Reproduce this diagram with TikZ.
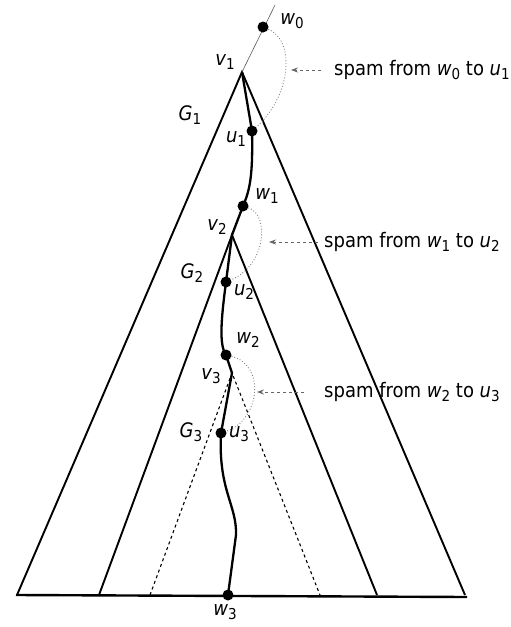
\documentclass[tikz,border=0pt]{standalone}
\usepackage{fontspec}
\setmainfont{DejaVu Sans}[FakeStretch=0.9]
\usetikzlibrary{arrows.meta}
\newcommand{\vtx}[2]{\textit{#1}\raisebox{-0.4ex}{\fontsize{15}{15}\selectfont #2}}
\begin{document}
\begin{tikzpicture}[x=1pt,y=-1pt,dot/.style={circle,fill=black,inner sep=0pt,minimum size=11pt},tri/.style={line width=1.9pt},triG/.style={line width=1.1pt,dashed},walk/.style={line width=2.3pt,line join=round},spam/.style={gray,dotted,line width=0.9pt},pointer/.style={gray!80!black,dashed,line width=0.8pt,-{Stealth[length=7pt,width=5pt]}},lbl/.style={font=\fontsize{20}{23}\selectfont,inner sep=1pt}]
\useasboundingbox (0,0) rectangle (511,627);

\coordinate (top) at (275,5);
\coordinate (v1) at (242,72);
\coordinate (v2) at (232,235);
\coordinate (v3) at (232,373);
\coordinate (L1) at (17,595);
\coordinate (R1) at (465,595);
\coordinate (L2) at (99,595);
\coordinate (R2) at (377,595);
\coordinate (L3) at (150,595);
\coordinate (R3) at (320,595);
\coordinate (B0) at (16,595);
\coordinate (B1) at (467,597);
\coordinate (bend) at (236,535);

% the three nested graphs
\draw[tri] (L1) -- (v1) -- (R1);
\draw[tri] (L2) -- (v2) -- (R2);
\draw[triG] (L3) -- (v3) -- (R3);
\draw[line width=2.4pt] (B0) -- (B1);
\draw[line width=0.6pt,gray!70!black] (top) -- (v1);

\node[dot] (w0) at (263,27) {};
\node[dot] (u1) at (252,131) {};
\node[dot] (w1) at (243,206) {};
\node[dot] (u2) at (226,282) {};
\node[dot] (w2) at (226,355) {};
\node[dot] (u3) at (221,433) {};
\node[dot] (w3) at (228,595) {};

% the walk
\draw[walk] (v1) -- (u1.center) .. controls (253,175) and (250,190) .. (w1.center) -- (v2) -- (u2.center) .. controls (221,320) and (219,345) .. (w2.center) -- (v3) -- (u3.center) .. controls (218,490) and (237,505) .. (bend) -- (w3.center);

% spam arcs
\draw[spam] (w0) .. controls (295,40) and (292,95) .. (u1);
\draw[spam] (w1) .. controls (270,215) and (266,265) .. (u2);
\draw[spam] (w2) .. controls (266,365) and (260,420) .. (u3);

\node[lbl,anchor=west] (t1) at (333,70) {spam from \vtx{w}{0} to \vtx{u}{1}};
\node[lbl,anchor=west] (t2) at (323,242) {spam from \vtx{w}{1} to \vtx{u}{2}};
\node[lbl,anchor=west] (t3) at (323,392) {spam from \vtx{w}{2} to \vtx{u}{3}};
\coordinate (a1) at (291,70);
\coordinate (a2) at (269,242);
\coordinate (a3) at (257,392);
\draw[pointer] ([xshift=-12pt]t1.west) -- (a1);
\draw[pointer] ([xshift=-5pt]t2.west) -- (a2);
\draw[pointer] ([xshift=-19pt]t3.west) -- (a3);

% labels
\node[lbl] (lw0) at (292,21) {\vtx{w}{0}};
\node[lbl] (lv1) at (225,62) {\vtx{v}{1}};
\node[lbl] (lG1) at (190,115) {\vtx{G}{1}};
\node[lbl] (lu1) at (236,139) {\vtx{u}{1}};
\node[lbl] (lw1) at (267,196) {\vtx{w}{1}};
\node[lbl] (lv2) at (217,227) {\vtx{v}{2}};
\node[lbl] (lG2) at (192,273) {\vtx{G}{2}};
\node[lbl] (lu2) at (244,292) {\vtx{u}{2}};
\node[lbl] (lw2) at (248,340) {\vtx{w}{2}};
\node[lbl] (lv3) at (211,376) {\vtx{v}{3}};
\node[lbl] (lG3) at (191,432) {\vtx{G}{3}};
\node[lbl] (lu3) at (239,434) {\vtx{u}{3}};
\node[lbl] (lw3) at (225,612) {\vtx{w}{3}};
\end{tikzpicture}
\end{document}
